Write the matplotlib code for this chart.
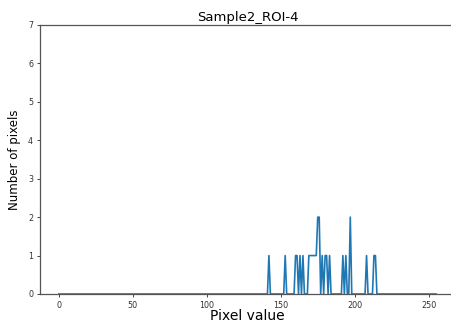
import numpy as np
import matplotlib
matplotlib.use("Agg")
import matplotlib.pyplot as plt

# Non-empty histogram bins (pixel value -> number of pixels)
nonzero_values = [142, 153, 160, 161, 163, 165, 169, 170, 171, 172, 173, 174,
                  175, 176, 178, 180, 181, 183, 192, 194, 197, 208, 213, 214]
nonzero_counts = [1, 1, 1, 1, 1, 1, 1, 1, 1, 1, 1, 1,
                  2, 2, 1, 1, 1, 1, 1, 1, 2, 1, 1, 1]

title = "Sample2_ROI-4"
x_label = "Pixel value"
y_label = "Number of pixels"

bins = np.arange(256)
hist = np.zeros(256)
hist[nonzero_values] = nonzero_counts

fig = plt.figure(figsize=(4.52, 3.25), dpi=100)
ax = fig.add_axes([0.0885, 0.0954, 0.918, 0.8277])

ax.plot(bins, hist, color="#1f77b4", linewidth=1.2)
ax.set_ylim(0, 7)
ax.set_xlim(-12.75, 267.75)
ax.set_xticks([0, 50, 100, 150, 200, 250])
ax.set_yticks(range(8))

ax.set_title(title, fontsize=9.5, pad=3)
ax.set_xlabel(x_label, fontsize=10, labelpad=-1)
ax.set_ylabel(y_label, fontsize=8.5, labelpad=5)
ax.tick_params(labelsize=5.8, length=2.5, width=0.7, color="#444444",
               labelcolor="#333333", pad=2.5)
for side, sp in ax.spines.items():
    sp.set_color("#555555")
    sp.set_linewidth(0.9)
ax.spines["right"].set_visible(False)

fig.savefig("out.png", dpi=100)
